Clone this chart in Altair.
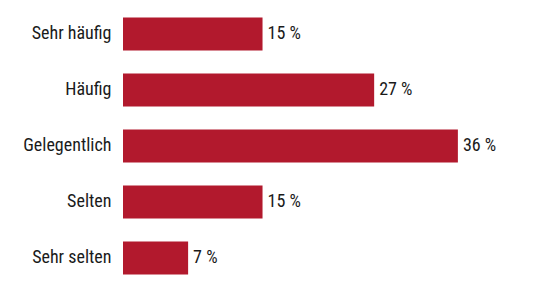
import altair as alt
import pandas as pd

categories = ["Sehr häufig", "Häufig", "Gelegentlich", "Selten", "Sehr selten"]
values = [15, 27, 36, 15, 7]
labels = ["15 %", "27 %", "36 %", "15 %", "7 %"]

df = pd.DataFrame({"cat": categories, "val": values, "lab": labels})

FONT = "Liberation Sans Narrow, Roboto Condensed, DejaVu Sans Condensed, sans-serif"

y = alt.Y("cat:N", sort=categories,
          scale=alt.Scale(paddingInner=0.41, paddingOuter=0.205),
          axis=alt.Axis(title=None, ticks=False, domain=False, labelPadding=12,
                        labelFont=FONT, labelFontSize=18, labelFontWeight="normal",
                        labelColor="#1a1a1a"))
x = alt.X("val:Q", scale=alt.Scale(domain=[0, 43], nice=False), axis=None)

bars = alt.Chart(df).mark_bar(color="#b2192d").encode(x=x, y=y)
text = alt.Chart(df).mark_text(align="left", baseline="middle", dx=5,
                               font=FONT, fontSize=18, fontWeight="normal",
                               color="#1a1a1a").encode(
    x=x, y=y, text="lab:N")

chart = (bars + text).properties(
    width=400, height=280,
    background="white",
    autosize=alt.AutoSizeParams(type="none"),
    padding={"left": 123, "top": 6, "right": 27, "bottom": 19},
).configure_view(strokeWidth=0)

chart.save("out.html", embed_options={"renderer": "svg", "actions": False})
